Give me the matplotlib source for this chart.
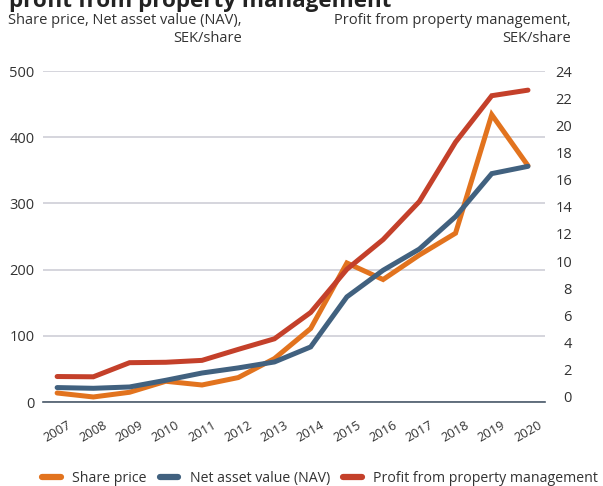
import matplotlib
matplotlib.use("Agg")
import matplotlib.pyplot as plt
import numpy as np
from matplotlib.lines import Line2D

years = [str(y) for y in range(2007, 2021)]
share_price = [13.6, 7.6, 14.7, 31.3, 25.7, 36.9, 65.6, 111, 210, 185, 222, 255, 434, 357]
nav = [21.8, 20.7, 22.7, 32.8, 43.8, 51.5, 60.5, 83.2, 158.8, 199, 231, 280, 345, 356]
profit_pm = [1.49, 1.47, 2.51, 2.54, 2.68, 3.49, 4.27, 6.21, 9.39, 11.58, 14.38, 18.76, 22.18, 22.59]

left_ticks = [0, 100, 200, 300, 400, 500]
right_ticks = list(range(0, 25, 2))

c_orange = "#E2731E"
c_blue = "#41617F"
c_red = "#C4402A"
c_text = "#333333"
c_grid = "#D2D2DA"

plt.rcParams['font.family'] = ['Open Sans', 'DejaVu Sans']

W, H = 603, 486
fig = plt.figure(figsize=(W / 100, H / 100), dpi=100)
L, R, B, T = 43, 545, 402, 71
ax = fig.add_axes([L / W, 1 - B / H, (R - L) / W, (B - T) / H])
ax2 = ax.twinx()

x = np.arange(len(years))
lw = 3.6
ax.plot(x, share_price, color=c_orange, lw=lw, solid_capstyle='round', solid_joinstyle='miter', zorder=3)
ax.plot(x, nav, color=c_blue, lw=lw, solid_capstyle='round', solid_joinstyle='miter', zorder=3)
ax2.plot(x, profit_pm, color=c_red, lw=lw, solid_capstyle='round', solid_joinstyle='miter', zorder=3)

ax.set_xlim(-0.39, 13.47)
ax.set_ylim(0, 500)
ax2.set_ylim(-0.387, 23.80)

ax.set_yticks(left_ticks)
ax.set_yticklabels([str(v) for v in left_ticks])
ax2.set_yticks(right_ticks)
ax2.set_yticklabels([str(v) for v in right_ticks])
for lab in ax2.get_yticklabels():
    lab.set_horizontalalignment('right')

ax.set_xticks(x)
ax.set_xticklabels(years, rotation=30, ha='center', rotation_mode='default')

fs = 10.5
ax.tick_params(axis='y', length=0, pad=6.0, labelsize=fs, labelcolor=c_text)
ax2.tick_params(axis='y', length=0, pad=19.4, labelsize=fs, labelcolor=c_text)
ax.tick_params(axis='x', length=0, pad=12, labelsize=9.3, labelcolor=c_text)

ax.grid(axis='y', color=c_grid, lw=1.3)
ax.grid(axis='x', visible=False)
ax.set_axisbelow(True)
for a in (ax, ax2):
    for s in ['top', 'left', 'right']:
        a.spines[s].set_visible(False)
ax.spines['bottom'].set_color('#4A5A6A')
ax.spines['bottom'].set_linewidth(1.2)
ax2.spines['bottom'].set_visible(False)
ax.set_zorder(2)
ax2.set_zorder(3)
ax.patch.set_visible(False)

fig.text(9 / W, 1 - 7 / H, "profit from property management", fontsize=16.1, fontweight='bold',
         color='#222222', ha='left', va='baseline')
fig.text(8 / W, 1 - 13 / H, "Share price, Net asset value (NAV),\nSEK/share", fontsize=fs,
         color=c_text, ha='left', va='top', multialignment='right', linespacing=1.25)
fig.text(571 / W, 1 - 13 / H, "Profit from property management,\nSEK/share", fontsize=fs,
         color=c_text, ha='right', va='top', multialignment='right', linespacing=1.25)

handles = [Line2D([], [], color=c, lw=4.5, solid_capstyle='round') for c in (c_orange, c_blue, c_red)]
fig.legend(handles, ["Share price", "Net asset value (NAV)", "Profit from property management"],
           loc='center', bbox_to_anchor=(320 / W, 1 - 478 / H), ncol=3, frameon=False,
           fontsize=10.2, handlelength=1.3, handletextpad=0.8, columnspacing=0.95,
           borderpad=0.2, labelcolor=c_text)

fig.savefig("out.png", dpi=100)
